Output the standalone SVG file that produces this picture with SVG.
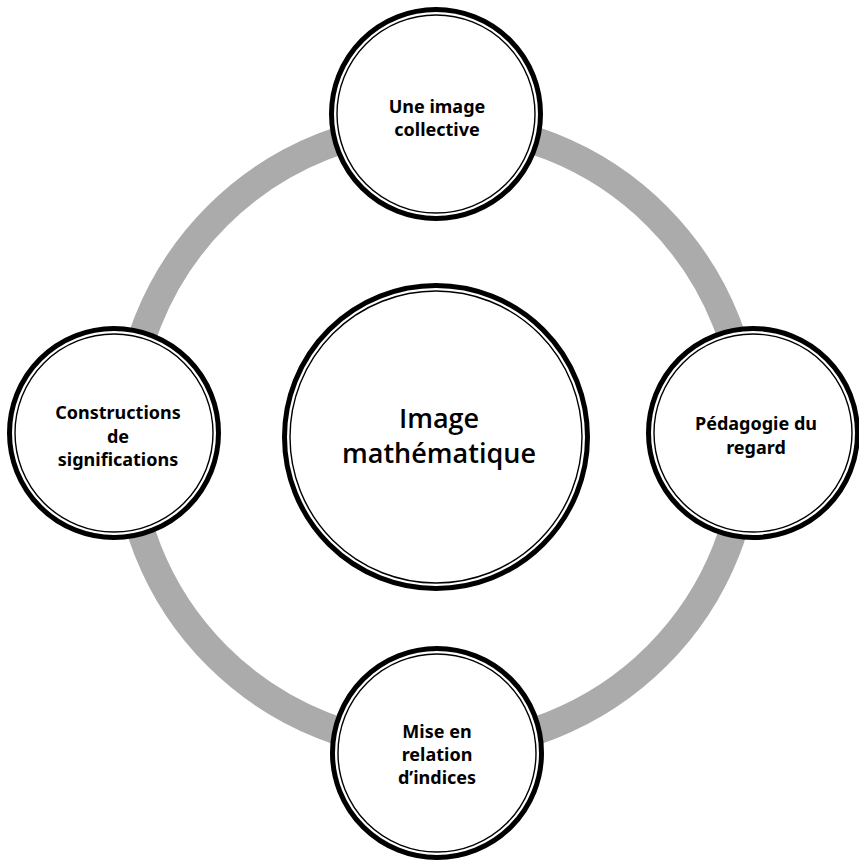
<svg xmlns="http://www.w3.org/2000/svg" width="859" height="863" viewBox="0 0 859 863">
<style>
.ring{fill:none;stroke:#ababab;stroke-width:28}
.outer{fill:#fff;stroke:#000;stroke-width:5}
.inner{fill:none;stroke:#000;stroke-width:1.4}
.t{font-family:"Noto Sans","Open Sans",sans-serif;font-weight:bold;font-size:18px;fill:#000;text-anchor:middle}
.c{font-family:"Open Sans","Noto Sans",sans-serif;font-weight:600;font-size:27px;fill:#000;text-anchor:middle}
</style>
<rect width="859" height="863" fill="#fff"/>
<g id="connectors">
<circle class="ring" cx="437" cy="436" r="311"/>
</g>
<g id="center">
<circle class="outer" cx="436" cy="437" r="151.5"/>
<circle class="inner" cx="436" cy="437" r="146"/>
<text class="c" x="439" y="428">Image</text>
<text class="c" x="439" y="463">mathématique</text>
</g>
<g id="top">
<circle class="outer" cx="436" cy="114" r="104.5"/>
<circle class="inner" cx="436" cy="114" r="99"/>
<text class="t" x="437" y="113">Une image</text>
<text class="t" x="437" y="136">collective</text>
</g>
<g id="right">
<circle class="outer" cx="753" cy="433" r="104.5"/>
<circle class="inner" cx="753" cy="433" r="99"/>
<text class="t" x="756" y="430">Pédagogie du</text>
<text class="t" x="756" y="454">regard</text>
</g>
<g id="bottom">
<circle class="outer" cx="437" cy="753" r="104.5"/>
<circle class="inner" cx="437" cy="753" r="99"/>
<text class="t" x="437" y="738">Mise en</text>
<text class="t" x="437" y="761">relation</text>
<text class="t" x="437" y="784">d’indices</text>
</g>
<g id="left">
<circle class="outer" cx="114" cy="433" r="104.5"/>
<circle class="inner" cx="114" cy="433" r="99"/>
<text class="t" x="118" y="419">Constructions</text>
<text class="t" x="118" y="443">de</text>
<text class="t" x="118" y="466">significations</text>
</g>
</svg>
